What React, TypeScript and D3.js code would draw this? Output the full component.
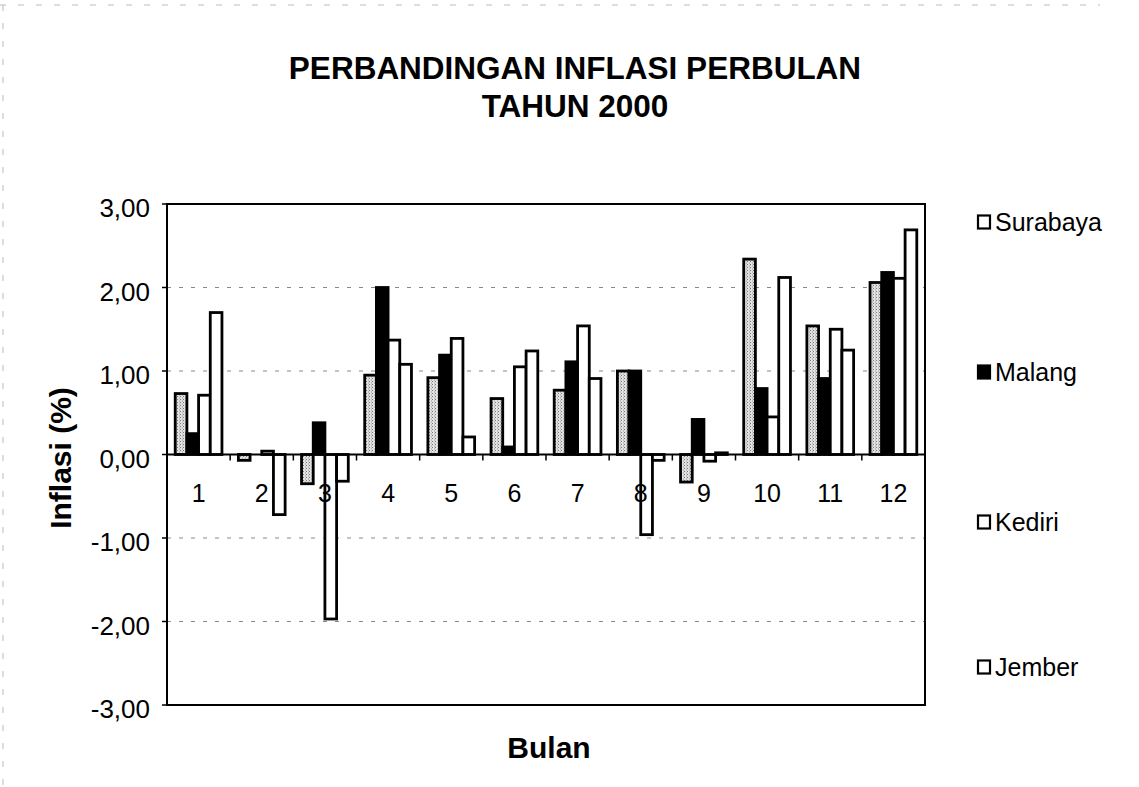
import * as d3 from "d3";

// data
const months = ["1", "2", "3", "4", "5", "6", "7", "8", "9", "10", "11", "12"];
const seriesNames = ["Surabaya", "Malang", "Kediri", "Jember"];
const surabaya = [0.73, -0.07, -0.35, 0.95, 0.92, 0.67, 0.77, 1.0, -0.33, 2.34, 1.54, 2.06];
const malang = [0.25, 0.0, 0.38, 2.0, 1.19, 0.09, 1.11, 1.0, 0.42, 0.79, 0.91, 2.18];
const kediri = [0.71, 0.04, -1.97, 1.37, 1.39, 1.05, 1.54, -0.96, -0.08, 0.45, 1.5, 2.11];
const jember = [1.7, -0.72, -0.32, 1.08, 0.21, 1.24, 0.91, -0.07, 0.02, 2.12, 1.25, 2.69];
const yTicks = [3, 2, 1, 0, -1, -2, -3];

const W = 1139;
const H = 787;
const plot = { left: 167, right: 925, top: 204, bottom: 705 };
const font = "'Liberation Sans', Arial, sans-serif";

const fmt = (v: number) => v.toFixed(2).replace(".", ",");

export default function App() {
  const values = [surabaya, malang, kediri, jember];
  const fills = ["url(#stipple)", "#000", "#fff", "#fff"];

  const x = d3.scaleBand<string>()
    .domain(months)
    .range([plot.left, plot.right])
    .paddingInner(0.26)
    .paddingOuter(0.13);
  const xs = d3.scaleBand<string>()
    .domain(seriesNames)
    .range([0, x.bandwidth()]);
  const y = d3.scaleLinear().domain([-3, 3]).range([plot.bottom, plot.top]);
  const y0 = y(0);

  // boundaries between months for the little ticks on the zero line
  const step = x.step();
  const bounds = d3.range(1, months.length).map((i) => plot.left + i * step);

  return (
    <svg width={W} height={H} style={{ position: "absolute", left: 0, top: 0, background: "#fff" }}>
      <defs>
        <pattern id="stipple" width="3" height="3" patternUnits="userSpaceOnUse">
          <rect width="3" height="3" fill="#e2e2e2" />
          <rect x="0" y="0" width="1" height="1" fill="#777" />
          <rect x="2" y="1.5" width="1" height="1" fill="#999" />
        </pattern>
      </defs>

      {/* faint outer frame of the chart area */}
      <line x1={0} y1={5} x2={1100} y2={5} stroke="#bbb" strokeDasharray="6,12" />
      <line x1={3} y1={5} x2={3} y2={787} stroke="#bbb" strokeDasharray="6,12" />

      {/* title */}
      <text x={575} y={79} textAnchor="middle" fontFamily={font} fontWeight="bold" fontSize={31.5}>
        PERBANDINGAN INFLASI PERBULAN
      </text>
      <text x={575} y={117} textAnchor="middle" fontFamily={font} fontWeight="bold" fontSize={31.5}>
        TAHUN 2000
      </text>

      {/* gridlines */}
      {yTicks.filter((t) => t !== 0 && Math.abs(t) !== 3).map((t) => (
        <line key={t} x1={plot.left} x2={plot.right} y1={y(t)} y2={y(t)}
          stroke="#888" strokeWidth={1} strokeDasharray="4,8" />
      ))}

      {/* bars */}
      {values.map((vals, si) => (
        <g key={seriesNames[si]}>
          {vals.map((v, mi) => {
            const bx = (x(months[mi]) ?? 0) + (xs(seriesNames[si]) ?? 0);
            const top = Math.min(y(v), y0);
            const h = Math.abs(y(v) - y0);
            return (
              <rect key={mi} x={bx} y={top} width={xs.bandwidth()} height={h}
                fill={fills[si]} stroke="#000" strokeWidth={2.8} />
            );
          })}
        </g>
      ))}

      {/* zero line with ticks */}
      <line x1={plot.left} x2={plot.right} y1={y0} y2={y0} stroke="#000" strokeWidth={2} />
      {bounds.map((bx, i) => (
        <line key={i} x1={bx} x2={bx} y1={y0} y2={y0 + 6} stroke="#000" strokeWidth={1.5} />
      ))}

      {/* frame */}
      <rect x={plot.left} y={plot.top} width={plot.right - plot.left} height={plot.bottom - plot.top}
        fill="none" stroke="#000" strokeWidth={2} />

      {/* y ticks and labels */}
      {yTicks.map((t) => (
        <g key={t}>
          <line x1={plot.left - 5} x2={plot.left} y1={y(t)} y2={y(t)} stroke="#000" strokeWidth={1.5} />
          <text x={150} y={y(t) + 13} textAnchor="end" fontFamily={font} fontSize={26}>
            {fmt(t)}
          </text>
        </g>
      ))}

      {/* x labels */}
      {months.map((m) => (
        <text key={m} x={(x(m) ?? 0) + x.bandwidth() / 2} y={y0 + 47}
          textAnchor="middle" fontFamily={font} fontSize={25}>
          {m}
        </text>
      ))}

      {/* axis titles */}
      <text transform="translate(71,458) rotate(-90)" textAnchor="middle"
        fontFamily={font} fontWeight="bold" fontSize={30}>
        Inflasi (%)
      </text>
      <text x={549} y={758} textAnchor="middle" fontFamily={font} fontWeight="bold" fontSize={30}>
        Bulan
      </text>

      {/* legend */}
      {seriesNames.map((s, i) => {
        const cy = [222, 372, 522, 667][i];
        return (
          <g key={s}>
            <rect x={978} y={cy - 6.5} width={12} height={13}
              fill={i === 1 ? "#000" : "#fff"} stroke="#000" strokeWidth={2.2} />
            <text x={995} y={cy + 9} fontFamily={font} fontSize={25}>{s}</text>
          </g>
        );
      })}
    </svg>
  );
}
